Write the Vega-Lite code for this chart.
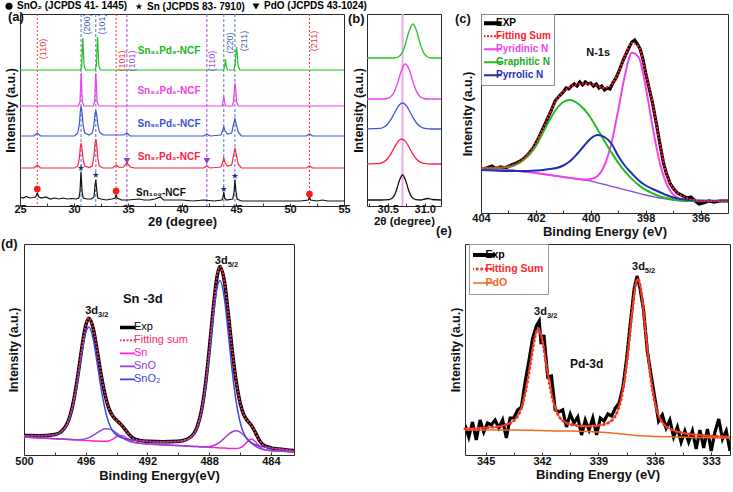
{
"$schema": "https://vega.github.io/schema/vega-lite/v6.json",
"background": "white",
"padding": {"left": 0, "top": 0, "right": 0, "bottom": 0},
"config": {
  "font": "Liberation Sans",
  "view": {"stroke": "#2a2a2a", "strokeWidth": 1},
  "axis": {"grid": false, "domain": false, "labelFont": "Liberation Sans", "labelFontWeight": "bold", "labelFontSize": 11, "labelColor": "#111", "titleFont": "Liberation Sans", "titleFontWeight": "bold", "titleFontSize": 13, "titleColor": "#111", "tickColor": "#333", "tickSize": -3, "labelPadding": 0, "titlePadding": 1, "labelFlush": false, "labelOverlap": false},
  "axisY": {"labels": false, "ticks": false, "titleFontSize": 12.5, "titlePadding": 3},
  "title": {"font": "Liberation Sans", "fontWeight": "bold", "fontSize": 13, "color": "#111", "anchor": "start", "frame": "group", "offset": 0},
  "text": {"font": "Liberation Sans"}
},
"datasets": {
  "arule": [{"x":26.6,"t":"o"},{"x":33.9,"t":"o"},{"x":51.8,"t":"o"},{"x":30.65,"t":"s"},{"x":32.02,"t":"s"},{"x":43.87,"t":"s"},{"x":44.9,"t":"s"},{"x":34.9,"t":"p"},{"x":42.3,"t":"p"}],
  "aline": [
{"s":"k","x":25,"y":9},{"s":"k","x":25.3,"y":8},{"s":"k","x":25.6,"y":9.5},{"s":"k","x":25.9,"y":8},{"s":"k","x":26.2,"y":8.5},{"s":"k","x":26.45,"y":9},{"s":"k","x":26.6,"y":13},{"s":"k","x":26.75,"y":9},{"s":"k","x":27,"y":8},{"s":"k","x":27.4,"y":9},{"s":"k","x":27.8,"y":7},{"s":"k","x":28.2,"y":8},{"s":"k","x":28.6,"y":7},{"s":"k","x":29,"y":8},{"s":"k","x":29.4,"y":7},{"s":"k","x":29.8,"y":7.5},{"s":"k","x":30.2,"y":7},{"s":"k","x":30.45,"y":8},{"s":"k","x":30.55,"y":14},{"s":"k","x":30.65,"y":34},{"s":"k","x":30.75,"y":14},{"s":"k","x":30.85,"y":8},{"s":"k","x":31.2,"y":7},{"s":"k","x":31.6,"y":7},{"s":"k","x":31.85,"y":9},{"s":"k","x":31.95,"y":21},{"s":"k","x":32.02,"y":26},{"s":"k","x":32.1,"y":17},{"s":"k","x":32.2,"y":8},{"s":"k","x":32.5,"y":7},{"s":"k","x":33,"y":6},{"s":"k","x":33.5,"y":7},{"s":"k","x":33.8,"y":8},{"s":"k","x":33.9,"y":11},{"s":"k","x":34,"y":8},{"s":"k","x":34.4,"y":6},{"s":"k","x":35,"y":6},{"s":"k","x":35.5,"y":6.5},{"s":"k","x":36,"y":7},{"s":"k","x":36.5,"y":6},{"s":"k","x":37,"y":6},{"s":"k","x":37.5,"y":7},{"s":"k","x":38,"y":9},{"s":"k","x":38.3,"y":6},{"s":"k","x":39,"y":6},{"s":"k","x":40,"y":6},{"s":"k","x":41,"y":5},{"s":"k","x":42,"y":6},{"s":"k","x":43,"y":5},{"s":"k","x":43.7,"y":6},{"s":"k","x":43.8,"y":9},{"s":"k","x":43.87,"y":14},{"s":"k","x":43.95,"y":8},{"s":"k","x":44.1,"y":6},{"s":"k","x":44.7,"y":7},{"s":"k","x":44.82,"y":14},{"s":"k","x":44.9,"y":26},{"s":"k","x":44.98,"y":16},{"s":"k","x":45.1,"y":7},{"s":"k","x":45.5,"y":5},{"s":"k","x":47,"y":5},{"s":"k","x":49,"y":5},{"s":"k","x":51,"y":5},{"s":"k","x":51.7,"y":6},{"s":"k","x":51.8,"y":9},{"s":"k","x":51.9,"y":6},{"s":"k","x":52.5,"y":5},{"s":"k","x":53,"y":6},{"s":"k","x":53.5,"y":5},{"s":"k","x":55,"y":5},
{"s":"r","x":25,"y":38},{"s":"r","x":26.3,"y":38},{"s":"r","x":26.6,"y":41},{"s":"r","x":26.9,"y":38},{"s":"r","x":30.05,"y":38},{"s":"r","x":30.35,"y":40},{"s":"r","x":30.5,"y":48},{"s":"r","x":30.58,"y":58},{"s":"r","x":30.66,"y":63},{"s":"r","x":30.74,"y":58},{"s":"r","x":30.85,"y":46},{"s":"r","x":31.0,"y":40},{"s":"r","x":31.4,"y":38.5},{"s":"r","x":31.7,"y":40},{"s":"r","x":31.85,"y":50},{"s":"r","x":31.94,"y":62},{"s":"r","x":32.02,"y":67},{"s":"r","x":32.1,"y":62},{"s":"r","x":32.2,"y":48},{"s":"r","x":32.35,"y":40},{"s":"r","x":32.7,"y":38},{"s":"r","x":33.6,"y":38},{"s":"r","x":33.9,"y":41},{"s":"r","x":34.2,"y":38.5},{"s":"r","x":34.6,"y":39},{"s":"r","x":34.9,"y":43},{"s":"r","x":35.2,"y":39},{"s":"r","x":35.6,"y":38},{"s":"r","x":42.0,"y":38},{"s":"r","x":42.3,"y":40},{"s":"r","x":42.6,"y":38},{"s":"r","x":43.6,"y":39},{"s":"r","x":43.75,"y":43},{"s":"r","x":43.87,"y":48},{"s":"r","x":43.99,"y":43},{"s":"r","x":44.2,"y":40},{"s":"r","x":44.6,"y":41},{"s":"r","x":44.78,"y":51},{"s":"r","x":44.9,"y":58},{"s":"r","x":45.02,"y":52},{"s":"r","x":45.2,"y":42},{"s":"r","x":45.5,"y":38},{"s":"r","x":51.5,"y":38},{"s":"r","x":51.8,"y":40},{"s":"r","x":52.1,"y":38},{"s":"r","x":55,"y":38},
{"s":"b","x":25,"y":70},{"s":"b","x":26.3,"y":70},{"s":"b","x":26.6,"y":73},{"s":"b","x":26.9,"y":70},{"s":"b","x":30.05,"y":70},{"s":"b","x":30.35,"y":73},{"s":"b","x":30.5,"y":82},{"s":"b","x":30.58,"y":94},{"s":"b","x":30.66,"y":100},{"s":"b","x":30.74,"y":94},{"s":"b","x":30.85,"y":80},{"s":"b","x":31.0,"y":73},{"s":"b","x":31.4,"y":71},{"s":"b","x":31.7,"y":73},{"s":"b","x":31.85,"y":82},{"s":"b","x":31.94,"y":92},{"s":"b","x":32.02,"y":95},{"s":"b","x":32.1,"y":92},{"s":"b","x":32.2,"y":82},{"s":"b","x":32.35,"y":74},{"s":"b","x":32.7,"y":71},{"s":"b","x":34.6,"y":71},{"s":"b","x":34.9,"y":73},{"s":"b","x":35.2,"y":70},{"s":"b","x":42.0,"y":70},{"s":"b","x":42.3,"y":72},{"s":"b","x":42.6,"y":70},{"s":"b","x":43.6,"y":71},{"s":"b","x":43.75,"y":75},{"s":"b","x":43.87,"y":79},{"s":"b","x":43.99,"y":75},{"s":"b","x":44.2,"y":72},{"s":"b","x":44.6,"y":73},{"s":"b","x":44.78,"y":82},{"s":"b","x":44.9,"y":87},{"s":"b","x":45.02,"y":82},{"s":"b","x":45.2,"y":74},{"s":"b","x":45.5,"y":70},{"s":"b","x":51.5,"y":70},{"s":"b","x":51.8,"y":72},{"s":"b","x":52.1,"y":70},{"s":"b","x":55,"y":70},
{"s":"m","x":25,"y":100},{"s":"m","x":30.4,"y":100},{"s":"m","x":30.55,"y":104},{"s":"m","x":30.61,"y":120},{"s":"m","x":30.66,"y":133},{"s":"m","x":30.71,"y":120},{"s":"m","x":30.78,"y":104},{"s":"m","x":30.92,"y":100},{"s":"m","x":31.8,"y":100},{"s":"m","x":31.92,"y":106},{"s":"m","x":31.97,"y":122},{"s":"m","x":32.02,"y":133},{"s":"m","x":32.07,"y":122},{"s":"m","x":32.14,"y":104},{"s":"m","x":32.3,"y":100},{"s":"m","x":43.72,"y":100},{"s":"m","x":43.8,"y":104},{"s":"m","x":43.87,"y":110},{"s":"m","x":43.94,"y":104},{"s":"m","x":44.05,"y":100},{"s":"m","x":44.68,"y":100},{"s":"m","x":44.78,"y":106},{"s":"m","x":44.85,"y":116},{"s":"m","x":44.91,"y":123},{"s":"m","x":44.98,"y":116},{"s":"m","x":45.06,"y":104},{"s":"m","x":45.2,"y":100},{"s":"m","x":55,"y":100},
{"s":"g","x":25,"y":136},{"s":"g","x":30.6,"y":136},{"s":"g","x":30.72,"y":140},{"s":"g","x":30.77,"y":155},{"s":"g","x":30.82,"y":168},{"s":"g","x":30.87,"y":155},{"s":"g","x":30.94,"y":140},{"s":"g","x":31.1,"y":136},{"s":"g","x":31.95,"y":136},{"s":"g","x":32.07,"y":140},{"s":"g","x":32.13,"y":156},{"s":"g","x":32.18,"y":169},{"s":"g","x":32.23,"y":156},{"s":"g","x":32.3,"y":140},{"s":"g","x":32.45,"y":136},{"s":"g","x":43.85,"y":136},{"s":"g","x":43.95,"y":140},{"s":"g","x":44.02,"y":147},{"s":"g","x":44.09,"y":140},{"s":"g","x":44.2,"y":136},{"s":"g","x":44.8,"y":136},{"s":"g","x":44.92,"y":142},{"s":"g","x":45.0,"y":153},{"s":"g","x":45.06,"y":159},{"s":"g","x":45.12,"y":152},{"s":"g","x":45.2,"y":140},{"s":"g","x":45.35,"y":136},{"s":"g","x":55,"y":136}
  ],
  "amark": [{"x":26.6,"y":17,"ph":"o"},{"x":33.9,"y":15,"ph":"o"},{"x":51.8,"y":12,"ph":"o"},{"x":30.65,"y":38,"ph":"s"},{"x":32.02,"y":31,"ph":"s"},{"x":43.87,"y":17,"ph":"s"},{"x":44.9,"y":30,"ph":"s"},{"x":34.9,"y":45,"ph":"p"},{"x":42.3,"y":45,"ph":"p"}],
  "alab": [{"x":27.1,"y":157,"t":"o","l":"(110)"},{"x":31.2,"y":182,"t":"s","l":"(200)"},{"x":32.6,"y":182,"t":"s","l":"(101)"},{"x":34.4,"y":145,"t":"o","l":"(101)"},{"x":35.37,"y":145,"t":"p","l":"(101)"},{"x":42.75,"y":145,"t":"p","l":"(110)"},{"x":44.45,"y":163,"t":"s","l":"(220)"},{"x":45.7,"y":165,"t":"s","l":"(211)"},{"x":52.2,"y":165,"t":"o","l":"(211)"}],
  "aname": [{"x":38.8,"y":155,"s":"g","l":"Sn₉₁Pd₉-NCF"},{"x":38.8,"y":115,"s":"m","l":"Sn₉₄Pd₆-NCF"},{"x":38.8,"y":82,"s":"b","l":"Sn₉₅Pd₅-NCF"},{"x":38.8,"y":49,"s":"r","l":"Sn₉₇Pd₃-NCF"},{"x":38.05,"y":13,"s":"k","l":"Sn₁₀₀-NCF"}],
  "bline": [
{"s":"k","x":30.22,"y":6},{"s":"k","x":30.4,"y":6},{"s":"k","x":30.52,"y":6.3},{"s":"k","x":30.58,"y":9.4},{"s":"k","x":30.62,"y":16.3},{"s":"k","x":30.66,"y":26},{"s":"k","x":30.7,"y":31},{"s":"k","x":30.74,"y":26},{"s":"k","x":30.78,"y":16.3},{"s":"k","x":30.82,"y":9.4},{"s":"k","x":30.88,"y":6.3},{"s":"k","x":30.95,"y":6},{"s":"k","x":31.0,"y":7},{"s":"k","x":31.05,"y":7.5},{"s":"k","x":31.1,"y":6.5},{"s":"k","x":31.22,"y":6},
{"s":"r","x":30.22,"y":42},{"s":"r","x":30.29,"y":42.2},{"s":"r","x":30.39,"y":42.6},{"s":"r","x":30.44,"y":43.9},{"s":"r","x":30.49,"y":46.8},{"s":"r","x":30.54,"y":51.9},{"s":"r","x":30.59,"y":58.5},{"s":"r","x":30.64,"y":64.6},{"s":"r","x":30.69,"y":67},{"s":"r","x":30.74,"y":64.6},{"s":"r","x":30.79,"y":58.5},{"s":"r","x":30.84,"y":51.9},{"s":"r","x":30.89,"y":46.8},{"s":"r","x":30.94,"y":43.9},{"s":"r","x":30.99,"y":42.6},{"s":"r","x":31.09,"y":42},{"s":"r","x":31.22,"y":42},
{"s":"b","x":30.22,"y":77},{"s":"b","x":30.3,"y":77.3},{"s":"b","x":30.4,"y":77.6},{"s":"b","x":30.45,"y":79},{"s":"b","x":30.5,"y":82},{"s":"b","x":30.55,"y":87.3},{"s":"b","x":30.6,"y":94.2},{"s":"b","x":30.65,"y":100.5},{"s":"b","x":30.7,"y":103},{"s":"b","x":30.75,"y":100.5},{"s":"b","x":30.8,"y":94.2},{"s":"b","x":30.85,"y":87.3},{"s":"b","x":30.9,"y":82},{"s":"b","x":30.95,"y":79},{"s":"b","x":31.0,"y":77.6},{"s":"b","x":31.1,"y":77},{"s":"b","x":31.22,"y":77},
{"s":"m","x":30.22,"y":107},{"s":"m","x":30.44,"y":107},{"s":"m","x":30.49,"y":107.5},{"s":"m","x":30.54,"y":109.2},{"s":"m","x":30.59,"y":114.4},{"s":"m","x":30.64,"y":124.5},{"s":"m","x":30.69,"y":136.4},{"s":"m","x":30.74,"y":142},{"s":"m","x":30.79,"y":136.4},{"s":"m","x":30.84,"y":124.5},{"s":"m","x":30.89,"y":114.4},{"s":"m","x":30.94,"y":109.2},{"s":"m","x":30.99,"y":107.5},{"s":"m","x":31.04,"y":107},{"s":"m","x":31.22,"y":107},
{"s":"g","x":30.22,"y":148},{"s":"g","x":30.59,"y":148},{"s":"g","x":30.64,"y":149},{"s":"g","x":30.69,"y":152.6},{"s":"g","x":30.74,"y":162},{"s":"g","x":30.79,"y":175.2},{"s":"g","x":30.84,"y":182},{"s":"g","x":30.89,"y":175.2},{"s":"g","x":30.94,"y":162},{"s":"g","x":30.99,"y":152.6},{"s":"g","x":31.04,"y":149},{"s":"g","x":31.09,"y":148},{"s":"g","x":31.22,"y":148}
  ],
  "cexp": [{"x":404,"y":44},{"x":403.8,"y":45},{"x":403.6,"y":47},{"x":403.45,"y":44},{"x":403.3,"y":46},{"x":403.1,"y":45},{"x":402.9,"y":48},{"x":402.7,"y":50},{"x":402.5,"y":53},{"x":402.3,"y":58},{"x":402.1,"y":65},{"x":401.9,"y":75},{"x":401.75,"y":84},{"x":401.6,"y":93},{"x":401.45,"y":102},{"x":401.3,"y":112},{"x":401.15,"y":117},{"x":401,"y":121},{"x":400.9,"y":125},{"x":400.8,"y":124},{"x":400.7,"y":127},{"x":400.6,"y":129},{"x":400.5,"y":127},{"x":400.4,"y":131},{"x":400.3,"y":128},{"x":400.2,"y":131},{"x":400.1,"y":129},{"x":400,"y":130},{"x":399.9,"y":127},{"x":399.8,"y":129},{"x":399.7,"y":125},{"x":399.6,"y":127},{"x":399.5,"y":123},{"x":399.4,"y":125},{"x":399.3,"y":124},{"x":399.2,"y":130},{"x":399.1,"y":134},{"x":399,"y":140},{"x":398.9,"y":147},{"x":398.8,"y":154},{"x":398.7,"y":160},{"x":398.6,"y":166},{"x":398.5,"y":171},{"x":398.4,"y":173},{"x":398.3,"y":169},{"x":398.2,"y":164},{"x":398.1,"y":154},{"x":398,"y":140},{"x":397.9,"y":128},{"x":397.75,"y":110},{"x":397.6,"y":88},{"x":397.5,"y":72},{"x":397.35,"y":50},{"x":397.25,"y":40},{"x":397.1,"y":29},{"x":397,"y":25},{"x":396.85,"y":20},{"x":396.7,"y":18},{"x":396.5,"y":15},{"x":396.35,"y":16},{"x":396.2,"y":12},{"x":396.05,"y":9},{"x":395.9,"y":10},{"x":395.7,"y":12},{"x":395.5,"y":11},{"x":395.3,"y":12},{"x":395,"y":12}],
  "cfit": [
{"x":404,"sum":45,"py":44,"gr":45,"pr":43,"bg":44},{"x":403.5,"sum":45.5,"py":43.5,"gr":45,"pr":42.5,"bg":43.5},{"x":403,"sum":47,"py":43,"gr":46,"pr":42,"bg":43},{"x":402.5,"sum":53,"py":41.5,"gr":52,"pr":42,"bg":41.5},{"x":402,"sum":70,"py":40,"gr":67,"pr":42.5,"bg":40},{"x":401.75,"sum":84,"py":39,"gr":80,"pr":43,"bg":39},{"x":401.5,"sum":99,"py":38,"gr":93,"pr":44,"bg":38},{"x":401.25,"sum":113,"py":37,"gr":104,"pr":45,"bg":37},{"x":401,"sum":121,"py":36,"gr":111,"pr":47.5,"bg":36},{"x":400.75,"sum":126,"py":35,"gr":113,"pr":52,"bg":35},{"x":400.5,"sum":128.5,"py":34.2,"gr":110,"pr":59,"bg":34},{"x":400.25,"sum":129.5,"py":33.5,"gr":104,"pr":67,"bg":33},{"x":400,"sum":129,"py":34.1,"gr":95,"pr":74.5,"bg":32},{"x":399.75,"sum":127,"py":37.1,"gr":83.4,"pr":78,"bg":30.2},{"x":399.5,"sum":125,"py":47.6,"gr":71.9,"pr":76,"bg":28.5},{"x":399.25,"sum":128,"py":69.4,"gr":60.6,"pr":69.5,"bg":26.7},{"x":399,"sum":140,"py":102.8,"gr":50.3,"pr":57,"bg":25},{"x":398.75,"sum":157,"py":138.4,"gr":41.3,"pr":47,"bg":23.2},{"x":398.5,"sum":170,"py":160.2,"gr":33.9,"pr":39.5,"bg":21.5},{"x":398.25,"sum":166,"py":155.5,"gr":27.9,"pr":32.5,"bg":19.7},{"x":398,"sum":140,"py":126.3,"gr":23.1,"pr":27.5,"bg":18},{"x":397.75,"sum":110,"py":86.6,"gr":19.6,"pr":24,"bg":16.5},{"x":397.5,"sum":72,"py":52,"gr":16.8,"pr":21,"bg":15},{"x":397.25,"sum":40,"py":29.8,"gr":15,"pr":18,"bg":14},{"x":397,"sum":25,"py":18.5,"gr":13.5,"pr":15.5,"bg":13},{"x":396.5,"sum":15,"py":12.4,"gr":12.1,"pr":13.3,"bg":12},{"x":396,"sum":12,"py":12,"gr":12,"pr":12.5,"bg":12},{"x":395.5,"sum":12,"py":12,"gr":12,"pr":12.3,"bg":12},{"x":395,"sum":12,"py":12,"gr":12,"pr":12.3,"bg":12}
  ],
  "dfit": [
{"x":500,"sm":19.4,"sn":18,"so":18,"s2":19.3},{"x":499,"sm":19.3,"sn":17.1,"so":17.1,"s2":19.2},{"x":498,"sm":20.5,"sn":16.3,"so":16.3,"s2":20.3},{"x":497.5,"sm":24.6,"sn":15.9,"so":15.9,"s2":24.2},{"x":497,"sm":40,"sn":15.4,"so":15.4,"s2":38.8},{"x":496.75,"sm":56.9,"sn":15.2,"so":15.3,"s2":54.8},{"x":496.5,"sm":80.4,"sn":15,"so":15.3,"s2":77},{"x":496.25,"sm":107.3,"sn":14.8,"so":15.6,"s2":102.1},{"x":496,"sm":129.5,"sn":14.6,"so":16.4,"s2":122.3},{"x":495.8,"sm":136.8,"sn":14.4,"so":17.4,"s2":128.1},{"x":495.5,"sm":125.6,"sn":14.1,"so":19.8,"s2":114.9},{"x":495.25,"sm":103.6,"sn":13.9,"so":22.4,"s2":91.2},{"x":495,"sm":80,"sn":13.7,"so":24.7,"s2":66.4},{"x":494.75,"sm":60.7,"sn":13.7,"so":26.2,"s2":46.2},{"x":494.5,"sm":46.7,"sn":14.1,"so":26.1,"s2":32},{"x":494.25,"sm":39,"sn":15.8,"so":24.6,"s2":24.2},{"x":494,"sm":34.6,"sn":18.2,"so":21.9,"s2":19.9},{"x":493.75,"sm":31.1,"sn":19.5,"so":18.8,"s2":17.7},{"x":493.5,"sm":26.7,"sn":18.6,"so":16.2,"s2":16.5},{"x":493.25,"sm":21.6,"sn":15.9,"so":14.2,"s2":15.7},{"x":493,"sm":17.7,"sn":13.5,"so":12.9,"s2":15.1},{"x":492.5,"sm":14.6,"sn":11.7,"so":11.7,"s2":14.3},{"x":492,"sm":13.7,"sn":11.1,"so":11.1,"s2":13.6},{"x":491,"sm":13.2,"sn":10.3,"so":10.3,"s2":13.1},{"x":490,"sm":13.7,"sn":9.4,"so":9.4,"s2":13.5},{"x":489.5,"sm":15.3,"sn":9,"so":9,"s2":15},{"x":489,"sm":21.1,"sn":8.6,"so":8.6,"s2":20.5},{"x":488.75,"sm":29.2,"sn":8.4,"so":8.4,"s2":28.2},{"x":488.5,"sm":44.2,"sn":8.1,"so":8.2,"s2":42.4},{"x":488.25,"sm":69.1,"sn":7.9,"so":8.2,"s2":65.9},{"x":488,"sm":104.2,"sn":7.7,"so":8.5,"s2":98.8},{"x":487.75,"sm":144,"sn":7.5,"so":9.3,"s2":135.8},{"x":487.5,"sm":177.4,"sn":7.3,"so":11,"s2":165.8},{"x":487.3,"sm":188.6,"sn":7.1,"so":12.9,"s2":174.4},{"x":487,"sm":172.5,"sn":6.9,"so":17,"s2":155},{"x":486.75,"sm":139.7,"sn":6.6,"so":20.6,"s2":120},{"x":486.5,"sm":103.9,"sn":6.4,"so":23.3,"s2":83.2},{"x":486.25,"sm":73.9,"sn":6.4,"so":24.2,"s2":53.3},{"x":486,"sm":52.7,"sn":7.1,"so":22.9,"s2":33.3},{"x":485.75,"sm":40.1,"sn":9.6,"so":19.8,"s2":21.5},{"x":485.5,"sm":34,"sn":13.7,"so":15.7,"s2":15.3},{"x":485.25,"sm":29.4,"sn":15.9,"so":11.9,"s2":12.1},{"x":485,"sm":22.4,"sn":13.2,"so":8.8,"s2":10.3},{"x":484.75,"sm":14.9,"sn":8.7,"so":6.7,"s2":9.1},{"x":484.5,"sm":10.3,"sn":5.8,"so":5.5,"s2":8.2},{"x":484,"sm":7.1,"sn":4.3,"so":4.4,"s2":6.9},{"x":483.5,"sm":6,"sn":3.9,"so":3.9,"s2":5.9},{"x":482.5,"sm":4.4,"sn":3,"so":3,"s2":4.3}
  ],
  "eexp": [{"x":346.1,"y":30},{"x":345.9,"y":18},{"x":345.7,"y":33},{"x":345.5,"y":15},{"x":345.3,"y":35},{"x":345.1,"y":23},{"x":344.9,"y":32},{"x":344.7,"y":30},{"x":344.5,"y":35},{"x":344.3,"y":27},{"x":344.1,"y":35},{"x":343.9,"y":17},{"x":343.7,"y":37},{"x":343.5,"y":37},{"x":343.3,"y":45},{"x":343.1,"y":48},{"x":342.9,"y":73},{"x":342.7,"y":94},{"x":342.5,"y":117},{"x":342.3,"y":129},{"x":342.15,"y":134},{"x":342.05,"y":111},{"x":341.9,"y":120},{"x":341.7,"y":78},{"x":341.5,"y":79},{"x":341.3,"y":45},{"x":341.1,"y":43},{"x":340.9,"y":45},{"x":340.7,"y":28},{"x":340.5,"y":41},{"x":340.3,"y":32},{"x":340.1,"y":38},{"x":339.9,"y":20},{"x":339.7,"y":35},{"x":339.5,"y":25},{"x":339.3,"y":37},{"x":339.1,"y":20},{"x":338.9,"y":37},{"x":338.7,"y":34},{"x":338.5,"y":41},{"x":338.3,"y":39},{"x":338.1,"y":47},{"x":337.9,"y":52},{"x":337.7,"y":68},{"x":337.5,"y":96},{"x":337.3,"y":132},{"x":337.1,"y":166},{"x":336.95,"y":179},{"x":336.8,"y":168},{"x":336.6,"y":145},{"x":336.4,"y":104},{"x":336.2,"y":80},{"x":336.0,"y":57},{"x":335.8,"y":34},{"x":335.6,"y":40},{"x":335.4,"y":27},{"x":335.2,"y":35},{"x":335.0,"y":18},{"x":334.8,"y":28},{"x":334.6,"y":13},{"x":334.4,"y":24},{"x":334.2,"y":13},{"x":334.0,"y":24},{"x":333.8,"y":6},{"x":333.6,"y":25},{"x":333.4,"y":7},{"x":333.2,"y":26},{"x":333.0,"y":4},{"x":332.8,"y":23},{"x":332.6,"y":36},{"x":332.4,"y":16},{"x":332.2,"y":24},{"x":332.0,"y":4}],
  "efit": [{"x":346.1,"sum":26.3,"bg":25},{"x":346,"sum":26.3,"bg":25},{"x":345.5,"sum":26.7,"bg":25},{"x":345,"sum":27.3,"bg":25},{"x":344.5,"sum":28.1,"bg":25},{"x":344,"sum":29.8,"bg":25},{"x":343.5,"sum":34.2,"bg":25},{"x":343,"sum":53.3,"bg":24.8},{"x":342.8,"sum":70.7,"bg":24.8},{"x":342.6,"sum":93.5,"bg":24.7},{"x":342.4,"sum":116,"bg":24.6},{"x":342.2,"sum":126.3,"bg":24.5},{"x":342,"sum":116,"bg":24.4},{"x":341.8,"sum":93.3,"bg":24.3},{"x":341.6,"sum":70.5,"bg":24.2},{"x":341.4,"sum":53.2,"bg":24.1},{"x":341.2,"sum":42.2,"bg":24},{"x":341,"sum":36,"bg":24},{"x":340.5,"sum":30.7,"bg":24},{"x":340,"sum":29.2,"bg":23.8},{"x":339.5,"sum":28.7,"bg":23.4},{"x":339,"sum":29.5,"bg":23},{"x":338.5,"sum":31.9,"bg":22.3},{"x":338,"sum":42.9,"bg":21.5},{"x":337.8,"sum":55.3,"bg":21.1},{"x":337.6,"sum":76.6,"bg":20.7},{"x":337.4,"sum":107.7,"bg":20.3},{"x":337.2,"sum":144.2,"bg":19.9},{"x":337,"sum":172,"bg":19.5},{"x":336.9,"sum":176.1,"bg":19.4},{"x":336.7,"sum":159.9,"bg":19.2},{"x":336.5,"sum":124.7,"bg":19},{"x":336.3,"sum":89.3,"bg":18.8},{"x":336.1,"sum":62.3,"bg":18.6},{"x":335.9,"sum":45.1,"bg":18.5},{"x":335.7,"sum":35.3,"bg":18.4},{"x":335.5,"sum":30.1,"bg":18.3},{"x":335,"sum":24.5,"bg":18},{"x":334.5,"sum":22.1,"bg":17.8},{"x":334,"sum":20.5,"bg":17.5},{"x":333.5,"sum":19.7,"bg":17.4},{"x":333,"sum":19,"bg":17.2},{"x":332.5,"sum":18.5,"bg":17.1},{"x":332,"sum":18.2,"bg":17}]
},
"spacing": -15,
"resolve": {"scale": {"color": "independent", "shape": "independent"}, "legend": {"color": "independent", "shape": "independent"}},
"vconcat": [
{
"spacing": 0,
"bounds": "flush",
"resolve": {"scale": {"color": "independent", "shape": "independent"}, "legend": {"color": "independent", "shape": "independent"}},
"hconcat": [
{
  "width": 324, "height": 192,
  "title": {"text": "(a)", "dx": -12, "dy": 26.5},
  "resolve": {"scale": {"color": "independent", "strokeDash": "independent"}},
  "encoding": {"x": {"field": "x", "type": "quantitative", "scale": {"domain": [25, 55], "nice": false, "zero": false}, "axis": {"title": "2θ (degree)", "values": [25,27.5,30,32.5,35,37.5,40,42.5,45,47.5,50,52.5,55], "labelExpr": "datum.value % 5 === 0 ? datum.label : ''"}}},
  "layer": [
    {"data": {"name": "arule"}, "mark": {"type": "rule", "strokeWidth": 1},
     "encoding": {"x": {"field": "x", "type": "quantitative"},
       "color": {"field": "t", "type": "nominal", "scale": {"domain": ["o","s","p"], "range": ["#f0343a","#4c78b8","#9a48d6"]}, "legend": null},
       "strokeDash": {"field": "t", "type": "nominal", "scale": {"domain": ["o","s","p"], "range": [[2,2],[3,2],[3,2]]}, "legend": null}}},
    {"data": {"name": "aline"}, "mark": {"type": "line", "strokeWidth": 1.2, "clip": true},
     "encoding": {"y": {"field": "y", "type": "quantitative", "scale": {"domain": [0, 192], "nice": false, "zero": false}, "axis": {"title": "Intensity (a.u.)", "titlePadding": 3}},
       "color": {"field": "s", "type": "nominal", "scale": {"domain": ["k","r","b","m","g"], "range": ["#111111","#ff2244","#3d55d8","#ee3fee","#22c422"]}, "legend": null}}},
    {"data": {"name": "amark"}, "mark": {"type": "point", "filled": true, "opacity": 1},
     "encoding": {"y": {"field": "y", "type": "quantitative", "scale": {"domain": [0, 192], "nice": false, "zero": false}},
       "size": {"value": 45},
       "color": {"field": "ph", "type": "nominal", "scale": {"domain": ["o","s","p"], "range": ["#ff1a1a","#1c2a8c","#8a40d8"]}, "legend": null},
       "shape": {"field": "ph", "type": "nominal", "title": null, "scale": {"domain": ["o","s","p"], "range": ["circle","M0,-1L0.2245,-0.309L0.951,-0.309L0.363,0.118L0.588,0.809L0,0.382L-0.588,0.809L-0.363,0.118L-0.951,-0.309L-0.2245,-0.309Z","triangle-down"]},
         "legend": {"orient": "none", "legendX": -16, "legendY": -13, "direction": "horizontal", "columns": 3, "title": null, "labelFontSize": 10, "labelFontWeight": "bold", "labelFont": "Liberation Sans", "labelOffset": 3, "columnPadding": 4, "symbolSize": 50, "padding": 0,
           "labelExpr": "datum.value === 'o' ? 'SnO₂ (JCPDS 41- 1445)' : datum.value === 's' ? 'Sn (JCPDS 83- 7910)' : 'PdO (JCPDS 43-1024)'",
           "encode": {"labels": {"update": {"fill": {"signal": "datum.value === 'o' ? '#ee1c1c' : datum.value === 's' ? '#1c2a8c' : '#8a40d8'"}}},
                      "symbols": {"update": {"fill": {"signal": "datum.value === 'o' ? '#ff1a1a' : datum.value === 's' ? '#1c2a8c' : '#8a40d8'"}, "fillOpacity": {"value": 1}, "strokeWidth": {"value": 0}}}}}}}},
    {"data": {"name": "alab"}, "mark": {"type": "text", "angle": 270, "fontSize": 9, "align": "center", "baseline": "middle"},
     "encoding": {"y": {"field": "y", "type": "quantitative", "scale": {"domain": [0, 192], "nice": false, "zero": false}},
       "text": {"field": "l"},
       "color": {"field": "t", "type": "nominal", "scale": {"domain": ["o","s","p"], "range": ["#f0343a","#3d68b0","#9a48d6"]}, "legend": null}}},
    {"data": {"name": "aname"}, "mark": {"type": "text", "fontSize": 10, "fontWeight": "bold", "align": "center", "baseline": "middle"},
     "encoding": {"y": {"field": "y", "type": "quantitative", "scale": {"domain": [0, 192], "nice": false, "zero": false}},
       "text": {"field": "l"},
       "color": {"field": "s", "type": "nominal", "scale": {"domain": ["k","r","b","m","g"], "range": ["#111111","#ff2244","#3d55d8","#f045d8","#22b822"]}, "legend": null}}}
  ]
},
{"width": 23, "height": 1, "data": {"values": []}, "mark": "point", "view": {"stroke": null}},
{
  "width": 74, "height": 192,
  "title": {"text": "(b)", "dx": -19, "dy": 16.5},
  "encoding": {"x": {"field": "x", "type": "quantitative", "scale": {"domain": [30.22, 31.22], "nice": false, "zero": false}, "axis": {"title": "2θ (degree)", "titleFontSize": 11.5, "values": [30.25,30.5,30.75,31], "labelExpr": "datum.value === 30.5 || datum.value === 31 ? format(datum.value, '.1f') : ''"}}},
  "layer": [
    {"data": {"values": [{"x": 30.7}]}, "mark": {"type": "rule", "color": "#f5a3ea", "strokeWidth": 2}, "encoding": {"x": {"field": "x", "type": "quantitative"}}},
    {"data": {"name": "bline"}, "mark": {"type": "line", "strokeWidth": 1.3, "interpolate": "monotone", "clip": true},
     "encoding": {"y": {"field": "y", "type": "quantitative", "scale": {"domain": [0, 192], "nice": false, "zero": false}, "axis": {"title": "Intensity (a.u.)", "titlePadding": 2}},
       "color": {"field": "s", "type": "nominal", "scale": {"domain": ["k","r","b","m","g"], "range": ["#111111","#ff2244","#3d55d8","#ee3fee","#22c422"]}, "legend": null}}}
  ]
},
{"width": 40, "height": 1, "data": {"values": []}, "mark": "point", "view": {"stroke": null}},
{
  "width": 247, "height": 199,
  "title": {"text": "(c)", "dx": -26, "dy": 16.5},
  "encoding": {"x": {"field": "x", "type": "quantitative", "scale": {"domain": [404, 395], "nice": false, "zero": false}, "axis": {"title": "Binding Energy (eV)", "values": [404,403,402,401,400,399,398,397,396,395], "labelExpr": "datum.value % 2 === 0 ? datum.label : ''", "labelPadding": 2.5, "titlePadding": 2}}},
  "layer": [
    {"data": {"name": "cfit"}, "mark": {"type": "line", "strokeWidth": 1.3, "color": "#8a4fd8", "interpolate": "monotone"},
     "encoding": {"y": {"field": "bg", "type": "quantitative", "scale": {"domain": [0, 199], "nice": false, "zero": false}, "axis": {"title": "Intensity (a.u.)", "titlePadding": 7}}}},
    {"data": {"name": "cexp"}, "mark": {"type": "line", "strokeWidth": 3.2},
     "encoding": {"y": {"field": "y", "type": "quantitative", "scale": {"domain": [0, 199], "nice": false, "zero": false}, "axis": {"title": "Intensity (a.u.)", "titlePadding": 7}},
       "color": {"datum": "exp", "type": "nominal", "title": null, "scale": {"domain": ["exp","sum","py","gr","pr"], "range": ["#000000","#ff1a2e","#ee44ee","#22bb22","#1f2fb0"]},
         "legend": {"orient": "none", "legendX": 0, "legendY": 0, "title": null, "padding": 3, "rowPadding": 0, "strokeColor": "#888", "symbolSize": 625, "clipHeight": 12.5, "labelFontSize": 10, "labelFontWeight": "bold", "labelOffset": 2,
           "labelExpr": "datum.value === 'exp' ? 'EXP' : datum.value === 'sum' ? 'Fitting Sum' : datum.value === 'py' ? 'Pyridinic N' : datum.value === 'gr' ? 'Graphitic N' : 'Pyrrolic N'",
           "encode": {"labels": {"update": {"fill": {"signal": "datum.value === 'exp' ? '#000' : datum.value === 'sum' ? '#ff1a2e' : datum.value === 'py' ? '#ee44ee' : datum.value === 'gr' ? '#22aa22' : '#1f2fb0'"}}},
                      "symbols": {"update": {"strokeWidth": {"signal": "datum.value === 'exp' ? 4 : 2"}, "strokeDash": {"signal": "datum.value === 'sum' ? [2,1.5] : [1,0]"}}}}}}}},
    {"data": {"name": "cfit"}, "transform": [{"fold": ["py","gr","pr"], "as": ["s","y"]}], "mark": {"type": "line", "strokeWidth": 2, "interpolate": "monotone"},
     "encoding": {"y": {"field": "y", "type": "quantitative", "scale": {"domain": [0, 199], "nice": false, "zero": false}, "axis": {"title": "Intensity (a.u.)", "titlePadding": 7}},
       "color": {"field": "s", "type": "nominal", "title": null, "scale": {"domain": ["exp","sum","py","gr","pr"], "range": ["#000000","#ff1a2e","#ee44ee","#22bb22","#1f2fb0"]}}}},
    {"data": {"name": "cfit"}, "mark": {"type": "line", "strokeWidth": 2, "strokeDash": [2,1.5], "interpolate": "monotone"},
     "encoding": {"y": {"field": "sum", "type": "quantitative", "scale": {"domain": [0, 199], "nice": false, "zero": false}, "axis": {"title": "Intensity (a.u.)", "titlePadding": 7}},
       "color": {"datum": "sum", "type": "nominal", "title": null, "scale": {"domain": ["exp","sum","py","gr","pr"], "range": ["#000000","#ff1a2e","#ee44ee","#22bb22","#1f2fb0"]}}}},
    {"data": {"values": [{"x": 399.73, "y": 160, "l": "N-1s"}]}, "mark": {"type": "text", "fontSize": 11, "fontWeight": "bold", "color": "#111", "align": "center", "baseline": "middle"},
     "encoding": {"y": {"field": "y", "type": "quantitative", "scale": {"domain": [0, 199], "nice": false, "zero": false}}, "text": {"field": "l"}}}
  ]
}
]
},
{
"spacing": 0,
"bounds": "flush",
"resolve": {"scale": {"color": "independent"}, "legend": {"color": "independent"}},
"hconcat": [
{"width": 4, "height": 1, "data": {"values": []}, "mark": "point", "view": {"stroke": null}},
{
  "width": 270, "height": 211,
  "title": {"text": "(d)", "dx": -23, "dy": 11},
  "encoding": {"x": {"field": "x", "type": "quantitative", "scale": {"domain": [500, 482.5], "nice": false, "zero": false}, "axis": {"title": "Binding Energy(eV)", "values": [500,498,496,494,492,490,488,486,484], "labelExpr": "(500 - datum.value) % 4 === 0 ? datum.label : ''", "labelPadding": 3.5, "titlePadding": 3}}},
  "layer": [
    {"data": {"name": "dfit"}, "mark": {"type": "line", "strokeWidth": 3.5, "interpolate": "monotone"},
     "encoding": {"y": {"field": "sm", "type": "quantitative", "scale": {"domain": [0, 211], "nice": false, "zero": false}, "axis": {"title": "Intensity (a.u.)", "titlePadding": 4}},
       "color": {"datum": "ex", "type": "nominal", "title": null, "scale": {"domain": ["ex","sm","sn","so","s2"], "range": ["#000000","#ff2a55","#ff22cc","#9b40d8","#3a4ae0"]},
         "legend": {"orient": "none", "legendX": 96, "legendY": 77, "title": null, "padding": 0, "rowPadding": 0, "symbolSize": 361, "clipHeight": 12.8, "labelFontSize": 11, "labelFontWeight": "normal", "labelOffset": 3,
           "labelExpr": "datum.value === 'ex' ? 'Exp' : datum.value === 'sm' ? 'Fitting sum' : datum.value === 'sn' ? 'Sn' : datum.value === 'so' ? 'SnO' : 'SnO₂'",
           "encode": {"labels": {"update": {"fill": {"signal": "datum.value === 'ex' ? '#000' : datum.value === 'sm' ? '#ff2a6a' : datum.value === 'sn' ? '#ff22cc' : datum.value === 'so' ? '#9040d0' : '#3a4ae0'"}}},
                      "symbols": {"update": {"strokeWidth": {"signal": "datum.value === 'ex' ? 3.5 : 1.8"}, "strokeDash": {"signal": "datum.value === 'sm' ? [2,1.5] : [1,0]"}}}}}}}},
    {"data": {"name": "dfit"}, "transform": [{"fold": ["sn","so","s2"], "as": ["s","y"]}], "mark": {"type": "line", "strokeWidth": 1.5, "interpolate": "monotone"},
     "encoding": {"y": {"field": "y", "type": "quantitative", "scale": {"domain": [0, 211], "nice": false, "zero": false}, "axis": {"title": "Intensity (a.u.)", "titlePadding": 4}},
       "color": {"field": "s", "type": "nominal", "title": null, "scale": {"domain": ["ex","sm","sn","so","s2"], "range": ["#000000","#ff2a55","#ff22cc","#9b40d8","#3a4ae0"]}}}},
    {"data": {"name": "dfit"}, "mark": {"type": "line", "strokeWidth": 1.8, "strokeDash": [2,1.5], "interpolate": "monotone"},
     "encoding": {"y": {"field": "sm", "type": "quantitative", "scale": {"domain": [0, 211], "nice": false, "zero": false}, "axis": {"title": "Intensity (a.u.)", "titlePadding": 4}},
       "color": {"datum": "sm", "type": "nominal", "title": null, "scale": {"domain": ["ex","sm","sn","so","s2"], "range": ["#000000","#ff2a55","#ff22cc","#9b40d8","#3a4ae0"]}}}},
    {"data": {"values": [{"x": 492.3, "y": 156, "l": "Sn -3d"}]}, "mark": {"type": "text", "fontSize": 13, "fontWeight": "bold", "color": "#111", "align": "center", "baseline": "middle"},
     "encoding": {"y": {"field": "y", "type": "quantitative", "scale": {"domain": [0, 211], "nice": false, "zero": false}}, "text": {"field": "l"}}},
    {"data": {"values": [{"x": 495.2, "y": 144, "m": "3d", "sb": "3/2"}, {"x": 486.8, "y": 194, "m": "3d", "sb": "5/2"}]}, "mark": {"type": "text", "fontSize": 11, "fontWeight": "bold", "color": "#111", "align": "right", "baseline": "middle"},
     "encoding": {"y": {"field": "y", "type": "quantitative", "scale": {"domain": [0, 211], "nice": false, "zero": false}}, "text": {"field": "m"}}},
    {"data": {"values": [{"x": 495.2, "y": 144, "m": "3d", "sb": "3/2"}, {"x": 486.8, "y": 194, "m": "3d", "sb": "5/2"}]}, "mark": {"type": "text", "fontSize": 7.5, "fontWeight": "bold", "color": "#111", "align": "left", "baseline": "middle", "dy": 4},
     "encoding": {"y": {"field": "y", "type": "quantitative", "scale": {"domain": [0, 211], "nice": false, "zero": false}}, "text": {"field": "sb"}}}
  ]
},
{"width": 171, "height": 1, "data": {"values": []}, "mark": "point", "view": {"stroke": null}},
{
  "width": 265, "height": 211,
  "title": {"text": "(e)", "dx": -29, "dy": -2},
  "encoding": {"x": {"field": "x", "type": "quantitative", "scale": {"domain": [346.1, 332], "nice": false, "zero": false}, "axis": {"title": "Binding Energy (eV)", "values": [345,343.5,342,340.5,339,337.5,336,334.5,333], "labelExpr": "(345 - datum.value) % 3 === 0 ? datum.label : ''", "labelPadding": 3.5, "titlePadding": 1.5}}},
  "layer": [
    {"data": {"name": "eexp"}, "mark": {"type": "line", "strokeWidth": 3.2, "clip": true},
     "encoding": {"y": {"field": "y", "type": "quantitative", "scale": {"domain": [0, 211], "nice": false, "zero": false}, "axis": {"title": "Intensity (a.u.)", "titlePadding": 3}},
       "color": {"datum": "ex", "type": "nominal", "title": null, "scale": {"domain": ["ex","sm","pdo"], "range": ["#000000","#ff2a2a","#f26a1e"]},
         "legend": {"orient": "none", "legendX": 4, "legendY": 0, "title": null, "padding": 4, "rowPadding": 0, "strokeColor": "#999", "symbolSize": 900, "clipHeight": 14, "labelFontSize": 10.5, "labelFontWeight": "bold", "labelOffset": 2,
           "labelExpr": "datum.value === 'ex' ? 'Exp' : datum.value === 'sm' ? 'Fitting Sum' : 'PdO'",
           "encode": {"labels": {"update": {"fill": {"signal": "datum.value === 'ex' ? '#000' : datum.value === 'sm' ? '#ff2a2a' : '#f26a1e'"}}},
                      "symbols": {"update": {"strokeWidth": {"signal": "datum.value === 'ex' ? 4 : datum.value === 'sm' ? 3 : 1.5"}, "strokeDash": {"signal": "datum.value === 'sm' ? [0.1,4.5] : [1,0]"}, "strokeCap": {"value": "round"}}}}}}}},
    {"data": {"name": "efit"}, "mark": {"type": "line", "strokeWidth": 1.5, "color": "#f26a1e", "interpolate": "monotone"},
     "encoding": {"y": {"field": "bg", "type": "quantitative", "scale": {"domain": [0, 211], "nice": false, "zero": false}, "axis": {"title": "Intensity (a.u.)", "titlePadding": 3}}}},
    {"data": {"name": "efit"}, "mark": {"type": "line", "strokeWidth": 1.5, "interpolate": "monotone"},
     "encoding": {"y": {"field": "sum", "type": "quantitative", "scale": {"domain": [0, 211], "nice": false, "zero": false}, "axis": {"title": "Intensity (a.u.)", "titlePadding": 3}},
       "color": {"datum": "pdo", "type": "nominal", "title": null, "scale": {"domain": ["ex","sm","pdo"], "range": ["#000000","#ff2a2a","#f26a1e"]}}}},
    {"data": {"name": "efit"}, "mark": {"type": "line", "strokeWidth": 3, "strokeDash": [0.1,4.5], "strokeCap": "round", "interpolate": "monotone"},
     "encoding": {"y": {"field": "sum", "type": "quantitative", "scale": {"domain": [0, 211], "nice": false, "zero": false}, "axis": {"title": "Intensity (a.u.)", "titlePadding": 3}},
       "color": {"datum": "sm", "type": "nominal", "title": null, "scale": {"domain": ["ex","sm","pdo"], "range": ["#000000","#ff2a2a","#f26a1e"]}}}},
    {"data": {"values": [{"x": 339.63, "y": 91, "l": "Pd-3d"}]}, "mark": {"type": "text", "fontSize": 12, "fontWeight": "bold", "color": "#111", "align": "center", "baseline": "middle"},
     "encoding": {"y": {"field": "y", "type": "quantitative", "scale": {"domain": [0, 211], "nice": false, "zero": false}}, "text": {"field": "l"}}},
    {"data": {"values": [{"x": 341.74, "y": 143, "m": "3d", "sb": "3/2"}, {"x": 336.53, "y": 188, "m": "3d", "sb": "5/2"}]}, "mark": {"type": "text", "fontSize": 11, "fontWeight": "bold", "color": "#111", "align": "right", "baseline": "middle"},
     "encoding": {"y": {"field": "y", "type": "quantitative", "scale": {"domain": [0, 211], "nice": false, "zero": false}}, "text": {"field": "m"}}},
    {"data": {"values": [{"x": 341.74, "y": 143, "m": "3d", "sb": "3/2"}, {"x": 336.53, "y": 188, "m": "3d", "sb": "5/2"}]}, "mark": {"type": "text", "fontSize": 7.5, "fontWeight": "bold", "color": "#111", "align": "left", "baseline": "middle", "dy": 4},
     "encoding": {"y": {"field": "y", "type": "quantitative", "scale": {"domain": [0, 211], "nice": false, "zero": false}}, "text": {"field": "sb"}}}
  ]
}
]
}
]
}
